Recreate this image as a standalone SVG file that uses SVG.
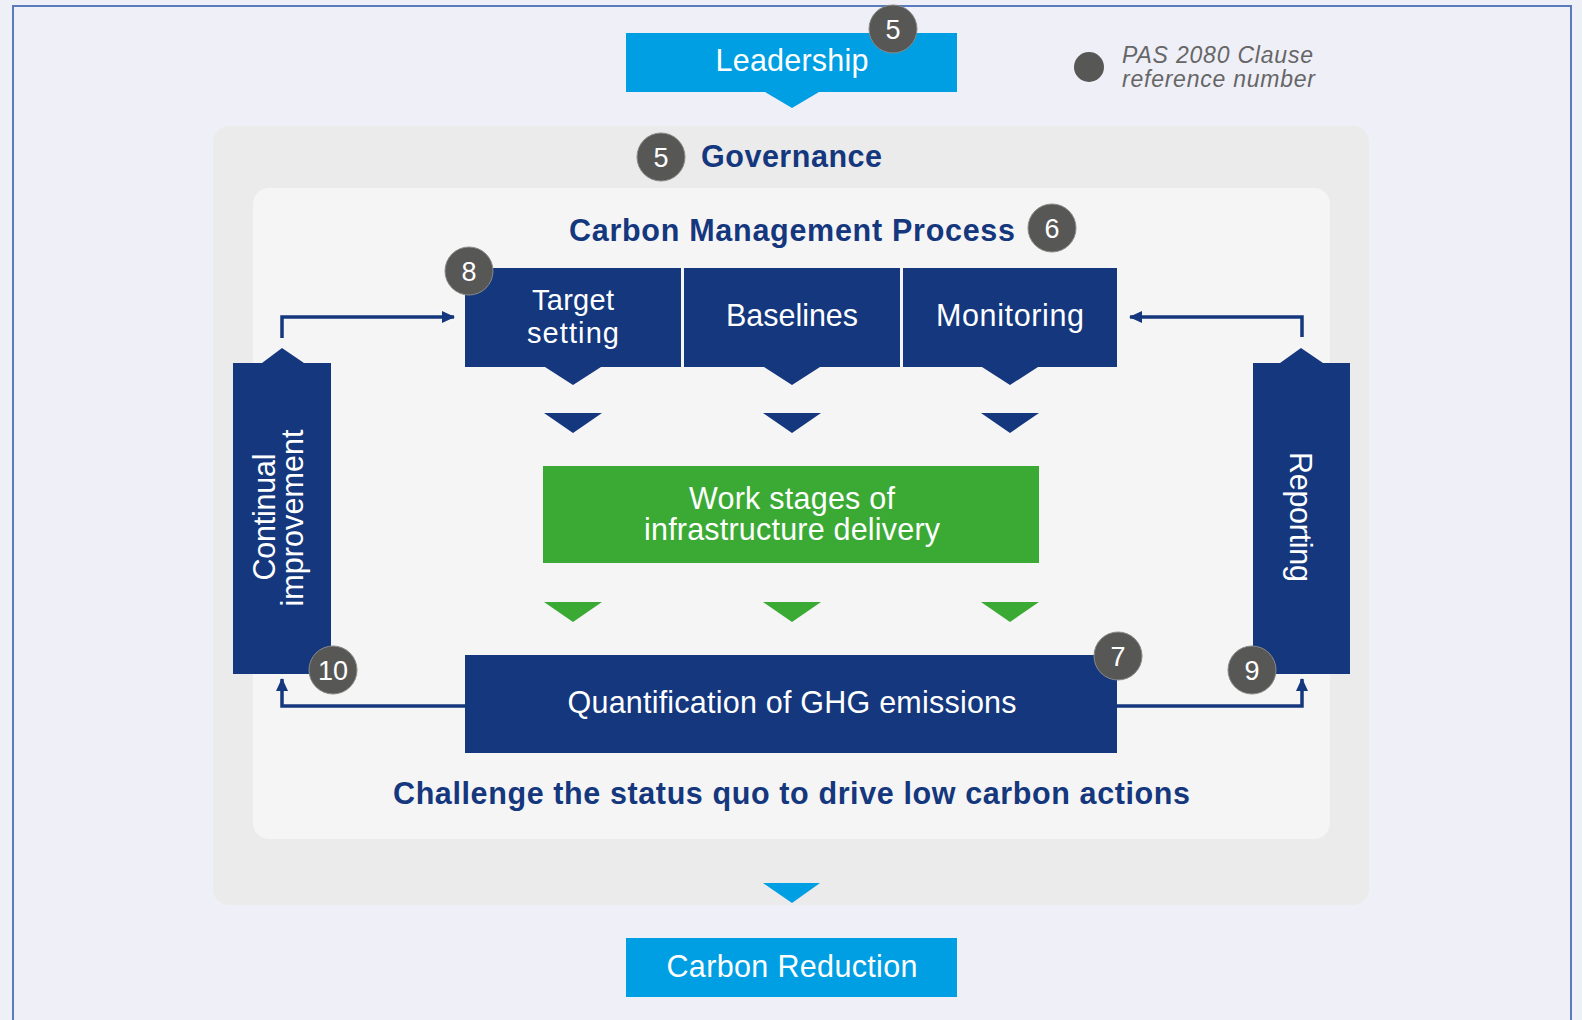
<svg xmlns="http://www.w3.org/2000/svg" width="1582" height="1020" viewBox="0 0 1582 1020">
<defs>
<style>
.t{font-family:"Liberation Sans",Arial,Helvetica,sans-serif;}
.w{fill:#ffffff;font-size:30.5px;text-anchor:middle;}
.h{fill:#14377d;font-size:30.5px;font-weight:bold;}
.bn{fill:#ffffff;font-size:27px;text-anchor:middle;}
.badge{fill:#575756;stroke:#8a8a88;stroke-width:1;}
.navy{fill:#14377d;}
.sky{fill:#009fe3;}
.green{fill:#3aaa35;}
.conn{fill:none;stroke:#14377d;stroke-width:3.5;}
</style>
<marker id="ah" markerUnits="userSpaceOnUse" markerWidth="14" markerHeight="14" refX="12" refY="7" orient="auto">
<path d="M0,1 L13,7 L0,13 Z" fill="#14377d"/>
</marker>
</defs>
<rect x="0" y="0" width="1582" height="1020" fill="#efeff8"/>
<rect x="13" y="6" width="1558" height="1040" fill="none" stroke="#5b7bbf" stroke-width="2"/>

<g id="legend">
<circle cx="1089" cy="67" r="15" fill="#575756"/>
<text class="t" x="1122" y="63" font-size="23" font-style="italic" fill="#666666" textLength="191">PAS 2080 Clause</text>
<text class="t" x="1122" y="87" font-size="23" font-style="italic" fill="#666666" textLength="193">reference number</text>
</g>

<g id="governance">
<rect x="213" y="126" width="1156" height="779" rx="16" fill="#ebebeb"/>
<circle class="badge" cx="661" cy="157" r="24"/>
<text class="t bn" x="661" y="167">5</text>
<text class="t h" x="701" y="167" textLength="181">Governance</text>
</g>

<g id="carbon-management-process">
<rect x="253" y="188" width="1077" height="651" rx="16" fill="#f5f5f5"/>
<text class="t h" x="569" y="241" textLength="446">Carbon Management Process</text>
<circle class="badge" cx="1052" cy="228" r="24"/>
<text class="t bn" x="1052" y="238">6</text>
<text class="t h" x="393" y="804" textLength="797">Challenge the status quo to drive low carbon actions</text>
</g>

<g id="leadership">
<path class="sky" d="M626,33 H957 V92 H819 L792,108 L765,92 H626 Z"/>
<text class="t w" x="792" y="71" textLength="153">Leadership</text>
<circle class="badge" cx="893" cy="29" r="24"/>
<text class="t bn" x="893" y="39">5</text>
</g>

<g id="target-setting">
<path class="navy" d="M465,268 H681 V367 H601 L573,385 L545,367 H465 Z"/>
<text class="t w" x="573" y="310" font-size="29" textLength="82" style="font-size:29px">Target</text>
<text class="t w" x="573" y="343" font-size="29" textLength="92" style="font-size:29px">setting</text>
<circle class="badge" cx="469" cy="271" r="24"/>
<text class="t bn" x="469" y="281">8</text>
</g>

<g id="baselines">
<path class="navy" d="M684,268 H900 V367 H820 L792,385 L764,367 H684 Z"/>
<text class="t w" x="792" y="326" textLength="132">Baselines</text>
</g>

<g id="monitoring">
<path class="navy" d="M903,268 H1117 V367 H1038 L1010,385 L982,367 H903 Z"/>
<text class="t w" x="1010" y="326" textLength="148">Monitoring</text>
</g>

<g id="work-stages">
<path class="navy" d="M544,413 H602 L573,433 Z M763,413 H821 L792,433 Z M981,413 H1039 L1010,433 Z"/>
<rect class="green" x="543" y="466" width="496" height="97"/>
<text class="t w" x="792" y="509" textLength="206">Work stages of</text>
<text class="t w" x="792" y="540" textLength="296">infrastructure delivery</text>
<path class="green" d="M544,602 H602 L573,622 Z M763,602 H821 L792,622 Z M981,602 H1039 L1010,622 Z"/>
</g>

<g id="quantification">
<rect class="navy" x="465" y="655" width="652" height="98"/>
<text class="t w" x="792" y="713" textLength="449">Quantification of GHG emissions</text>
<circle class="badge" cx="1118" cy="656" r="24"/>
<text class="t bn" x="1118" y="666">7</text>
</g>

<g id="continual-improvement">
<path class="navy" d="M233,363 H262 L282,348 L304,363 H331 V674 H233 Z"/>
<text class="t w" transform="translate(275,517) rotate(-90)" x="0" y="0" textLength="127">Continual</text>
<text class="t w" transform="translate(275,518) rotate(-90)" x="0" y="28" textLength="177">improvement</text>
<circle class="badge" cx="333" cy="670" r="24"/>
<text class="t bn" x="333" y="680">10</text>
</g>

<g id="reporting">
<path class="navy" d="M1253,363 H1280 L1301,348 L1323,363 H1350 V674 H1253 Z"/>
<text class="t w" transform="translate(1290,517) rotate(90)" x="0" y="0" textLength="130">Reporting</text>
<circle class="badge" cx="1252" cy="670" r="24"/>
<text class="t bn" x="1252" y="680">9</text>
</g>

<g id="carbon-reduction">
<path fill="#009fe3" d="M763,883 H820 L792,903 Z"/>
<rect class="sky" x="626" y="938" width="331" height="59"/>
<text class="t w" x="792" y="977" textLength="251">Carbon Reduction</text>
</g>

<g id="connectors">
<path class="conn" d="M282,338 V317 H454" marker-end="url(#ah)"/>
<path class="conn" d="M1302,337 V317 H1130" marker-end="url(#ah)"/>
<path class="conn" d="M465,706 H282 V679" marker-end="url(#ah)"/>
<path class="conn" d="M1117,706 H1302 V679" marker-end="url(#ah)"/>
</g>
</svg>
